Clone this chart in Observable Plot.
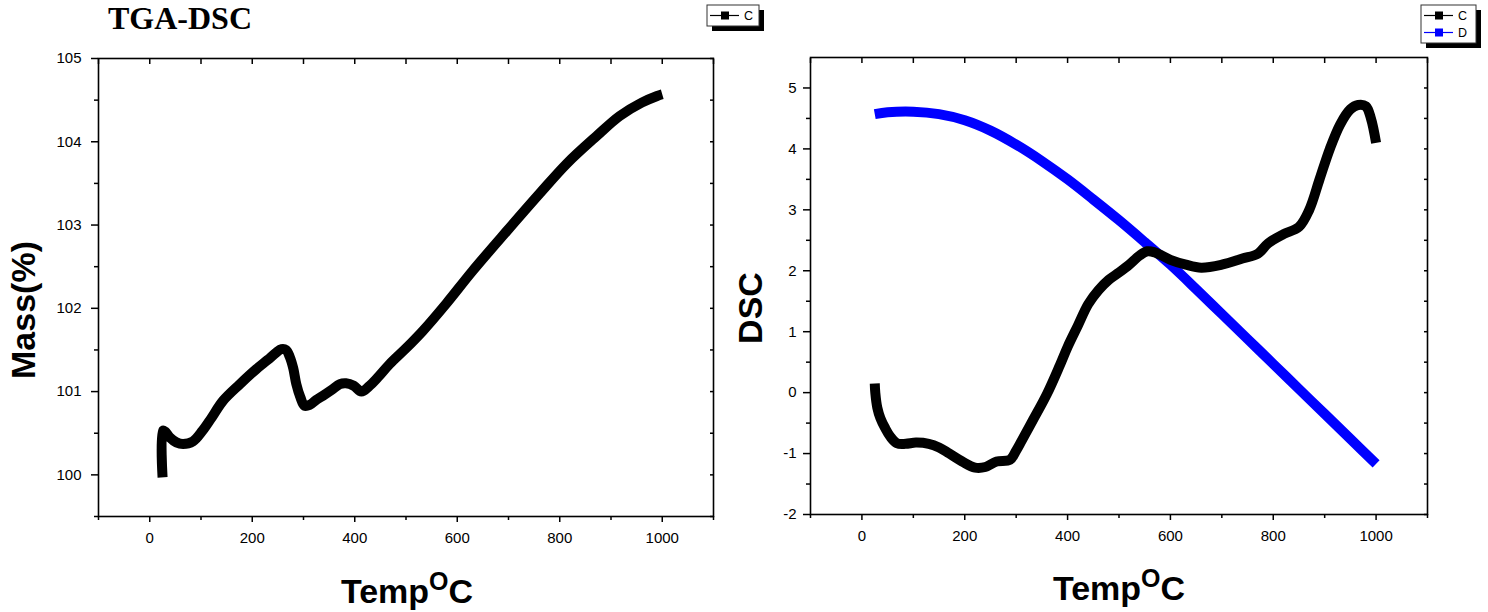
<!DOCTYPE html>
<html><head><meta charset="utf-8">
<script src="https://cdn.jsdelivr.net/npm/d3@7"></script>
<script src="https://cdn.jsdelivr.net/npm/@observablehq/plot@0.6"></script>
<style>
body{margin:0;background:#fff;}
#wrap{position:relative;width:1488px;height:612px;overflow:hidden;background:#fff;}
#wrap > svg{position:absolute;top:0;}
</style></head><body><div id="wrap"></div>
<script>
// ---- data ----
const tgaTemp = [25, 25.5, 30, 39, 52, 65, 84, 103, 120, 143, 176, 208, 230, 247, 257, 266, 273, 280, 286, 294, 302, 312, 325, 338, 355, 371, 383, 398, 413, 429, 445, 468, 500, 533, 579, 630, 697, 761, 814, 872, 917, 960, 990, 1000];
const tgaMass = [99.97, 100.53, 100.52, 100.45, 100.39, 100.37, 100.4, 100.53, 100.68, 100.89, 101.09, 101.27, 101.38, 101.47, 101.51, 101.5, 101.42, 101.28, 101.09, 100.93, 100.83, 100.84, 100.9, 100.95, 101.02, 101.09, 101.1, 101.07, 101.0, 101.07, 101.17, 101.33, 101.52, 101.73, 102.06, 102.45, 102.93, 103.38, 103.74, 104.07, 104.31, 104.47, 104.55, 104.57];

const dscTempC = [25, 26, 30, 36, 45, 55, 68, 85, 105, 130, 150, 170, 195, 220, 240, 262, 288, 300, 310, 332, 360, 385, 400, 420, 440, 460, 480, 500, 520, 540, 555, 570, 600, 630, 660, 700, 740, 770, 790, 820, 850, 870, 890, 910, 930, 950, 965, 980, 990, 1000];
const dscC = [0.15, 0.0, -0.25, -0.42, -0.58, -0.72, -0.83, -0.84, -0.82, -0.84, -0.9, -1.0, -1.13, -1.23, -1.22, -1.13, -1.1, -0.95, -0.8, -0.46, -0.02, 0.45, 0.75, 1.1, 1.45, 1.68, 1.85, 1.97, 2.1, 2.25, 2.32, 2.3, 2.18, 2.1, 2.05, 2.1, 2.2, 2.28, 2.45, 2.6, 2.72, 3.0, 3.5, 4.0, 4.4, 4.65, 4.72, 4.7, 4.5, 4.1];

const dscTempD = [25, 50, 100, 150, 200, 250, 300, 350, 400, 450, 500, 550, 600, 650, 700, 750, 800, 850, 900, 950, 1000];
const dscD = [4.57, 4.6, 4.61, 4.57, 4.47, 4.3, 4.07, 3.8, 3.5, 3.17, 2.83, 2.47, 2.1, 1.7, 1.29, 0.88, 0.47, 0.06, -0.35, -0.76, -1.17];

const xMajorTicks = [0, 200, 400, 600, 800, 1000];
const xMinorTicks = [-100, 100, 300, 500, 700, 900, 1100];
const massMajorTicks = [100, 101, 102, 103, 104, 105];
const massMinorTicks = [99.5, 100.5, 101.5, 102.5, 103.5, 104.5];
const dscMajorTicks = [-2, -1, 0, 1, 2, 3, 4, 5];
const dscMinorTicks = [-1.5, -0.5, 0.5, 1.5, 2.5, 3.5, 4.5];

const titleText = "TGA-DSC";
const seriesNames = ["C", "D"];
const seriesColors = ["#000000", "#0000ff"];

// ---- helpers ----
const fmt = d => String(d);
const blank = () => "";
function frameAxes(xMaj, xMin, yMaj, yMin, yPad) {
  return [
    Plot.axisX({ticks: xMaj, tickSize: 6, tickPadding: 10, tickFormat: fmt, label: null, strokeWidth: 1.5, fontSize: 15}),
    Plot.axisX({ticks: xMin, tickSize: 4, tickFormat: blank, label: null, strokeWidth: 1.5}),
    Plot.axisX({anchor: "top", ticks: xMaj.concat(xMin), tickSize: -5, tickFormat: blank, label: null, strokeWidth: 1.5}),
    Plot.axisY({ticks: yMaj, tickSize: 7, tickPadding: yPad, tickFormat: fmt, label: null, strokeWidth: 1.5, fontSize: 15}),
    Plot.axisY({ticks: yMin, tickSize: 4, tickFormat: blank, label: null, strokeWidth: 1.5}),
    Plot.axisY({anchor: "right", ticks: yMaj.concat(yMin), tickSize: -4, tickFormat: blank, label: null, strokeWidth: 1.5}),
    Plot.frame({stroke: "#000", strokeWidth: 1.6})
  ];
}
const lineOpts = {x: "t", y: "v", strokeWidth: 10, curve: "catmull-rom", strokeLinecap: "butt", strokeLinejoin: "round"};
const style = {fontFamily: "'Liberation Sans', Arial, sans-serif", fontSize: "15px", color: "#000", background: "transparent", overflow: "visible"};

const tga = tgaTemp.map((t, i) => ({t, v: tgaMass[i]}));
const cData = dscTempC.map((t, i) => ({t, v: dscC[i]}));
const dData = dscTempD.map((t, i) => ({t, v: dscD[i]}));

const left = Plot.plot({
  width: 744, height: 612,
  marginLeft: 98, marginRight: 31, marginTop: 58, marginBottom: 96,
  x: {domain: [-100, 1100]},
  y: {domain: [99.5, 105]},
  style,
  marks: [
    Plot.line(tga, {...lineOpts, stroke: seriesColors[0]}),
    ...frameAxes(xMajorTicks, xMinorTicks, massMajorTicks, massMinorTicks, 10)
  ]
});
left.style.left = "0px";

const right = Plot.plot({
  width: 744, height: 612,
  marginLeft: 66, marginRight: 61, marginTop: 57, marginBottom: 98,
  x: {domain: [-100, 1100]},
  y: {domain: [-2, 5.5]},
  style,
  marks: [
    Plot.line(dData, {...lineOpts, stroke: seriesColors[1]}),
    Plot.line(cData, {...lineOpts, stroke: seriesColors[0]}),
    ...frameAxes(xMajorTicks, xMinorTicks, dscMajorTicks, dscMinorTicks, 7)
  ]
});
right.style.left = "744px";

const wrap = document.getElementById("wrap");
wrap.appendChild(left);
wrap.appendChild(right);

// ---- overlay: title, axis titles, legends ----
const ns = "http://www.w3.org/2000/svg";
const ov = document.createElementNS(ns, "svg");
ov.setAttribute("width", 1488); ov.setAttribute("height", 612);
ov.style.left = "0px";
ov.style.pointerEvents = "none";
wrap.appendChild(ov);
function el(tag, attrs, text) {
  const e = document.createElementNS(ns, tag);
  for (const k in attrs) e.setAttribute(k, attrs[k]);
  if (text != null) e.textContent = text;
  ov.appendChild(e);
  return e;
}
const sans = "'Liberation Sans', Arial, sans-serif";
el("text", {x: 108, y: 29, "font-family": "'Liberation Serif', 'Times New Roman', serif", "font-weight": "bold", "font-size": 32}, titleText);
el("text", {transform: "translate(35,310) rotate(-90)", "text-anchor": "middle", "font-family": sans, "font-weight": "bold", "font-size": 34}, "Mass(%)");
el("text", {transform: "translate(762,308) rotate(-90)", "text-anchor": "middle", "font-family": sans, "font-weight": "bold", "font-size": 34}, "DSC");
function tempLabel(cx, by) {
  const t = el("text", {x: cx, y: by, "text-anchor": "middle", "font-family": sans, "font-weight": "bold", "font-size": 34});
  const a = document.createElementNS(ns, "tspan"); a.textContent = "Temp"; t.appendChild(a);
  const b = document.createElementNS(ns, "tspan"); b.setAttribute("dy", -13); b.setAttribute("font-size", 25); b.textContent = "O"; t.appendChild(b);
  const c = document.createElementNS(ns, "tspan"); c.setAttribute("dy", 13); c.textContent = "C"; t.appendChild(c);
}
tempLabel(407, 603);
tempLabel(1119, 600);

function legend(x, y, w, names) {
  const h = 4 + names.length * 17;
  el("rect", {x: x + 5, y: y + 5, width: w, height: h, fill: "#000"});
  el("rect", {x: x, y: y, width: w, height: h, fill: "#fff", stroke: "#333", "stroke-width": 1});
  names.forEach((n, i) => {
    const cy = y + 10.5 + i * 17;
    const col = seriesColors[seriesNames.indexOf(n)];
    el("line", {x1: x + 3, x2: x + 32, y1: cy, y2: cy, stroke: col, "stroke-width": 1.2});
    el("rect", {x: x + 14, y: cy - 4, width: 8, height: 8, fill: col});
    el("text", {x: x + 37, y: cy + 4.5, "font-family": sans, "font-size": 12.5}, n);
  });
}
legend(707, 5, 52, ["C"]);
legend(1421, 5, 55, ["C", "D"]);
</script></body></html>
